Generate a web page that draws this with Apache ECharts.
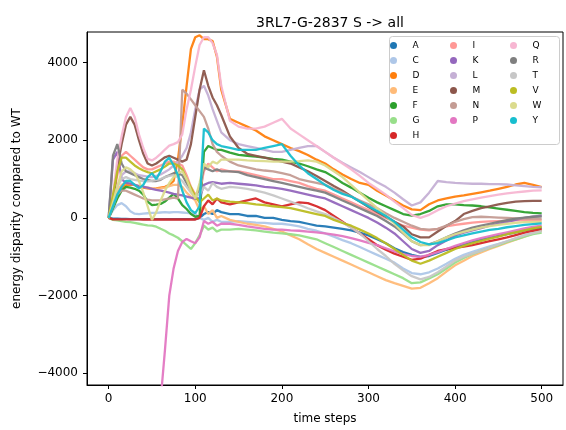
<!DOCTYPE html>
<html><head><meta charset="utf-8">
<script src="https://cdn.jsdelivr.net/npm/echarts@6/dist/echarts.min.js"></script>
<style>html,body{margin:0;padding:0;background:#fff}#c{width:566px;height:430px}</style>
</head><body><div id="c"></div>
<script>
const steps = [0,5,10,15,20,25,30,35,40,45,50,55,60,65,70,75,80,85,90,95,100,105,110,115,120,125,130,
  140,150,160,170,180,190,200,210,220,230,240,250,260,270,280,290,300,310,320,330,340,350,360,370,380,390,400,410,420,430,440,450,460,470,480,490,500];

const A = [0,-20,-20,-25,-25, -30,-30,-30,-30,-30, -30,-30,-30,-30,-30, -30,-30,-30,-30,-30, -30,0,100,150,100, 200,150,
  100,100,50,50,0, 0,-50,-80,-100,-150, -200,-220,-250,-280,-320, -380,-450,-550,-650,-780, -880,-950,-1000,-980,-900, -820,-750,-680,-620,-560, -510,-460,-420,-370,-320, -280,-250];
const C = [0,200,330,380,300, 170,110,100,110,120, 130,130,140,150,140, 150,150,140,130,120, 100,0,-50,0,-100, -50,-100,
  -100,-80,-100,-120,-130, -150,-150,-180,-220,-280, -330,-400,-480,-570,-650, -750,-850,-950,-1050,-1150, -1300,-1420,-1450,-1400,-1300, -1180,-1050,-950,-870,-800, -730,-670,-600,-530,-450, -380,-320];
const D = [0,300,550,750,850, 850,850,800,780,760, 750,760,780,800,850, 950,1500,2400,3400,4350, 4650,4700,4600,4600,4550, 4150,3300,
  2550,2450,2350,2250,2100, 2000,1900,1800,1720,1620, 1500,1400,1250,1120,1000, 900,850,700,580,450, 320,220,200,350,450, 500,550,580,620,660, 700,750,800,860,900, 850,790];
const E = [0,400,700,850,900, 880,850,820,800,780, 760,750,760,780,820, 850,850,800,650,550, 450,200,300,100,200, 0,50,
  -50,-100,-150,-180,-220, -280,-350,-450,-550,-680, -800,-900,-1000,-1100,-1200, -1300,-1400,-1500,-1600,-1680, -1750,-1820,-1800,-1680,-1550, -1380,-1220,-1100,-980,-890, -800,-720,-640,-560,-480, -400,-330];
const F = [0,250,500,700,800, 780,750,700,600,420, 330,340,360,420,520, 620,500,330,230,100, 30,50,1700,1850,1800, 1750,1750,
  1680,1620,1600,1580,1550, 1520,1500,1450,1400,1330, 1250,1180,1050,900,780, 650,520,400,300,200, 100,60,100,180,300, 350,350,330,320,300, 270,240,210,180,150, 130,115];
const G = [0,-50,-60,-80,-100, -110,-130,-150,-170,-190, -200,-225,-280,-330,-400, -450,-510,-600,-700,-800, -650,-450,-200,-300,-250, -350,-300,
  -300,-280,-300,-320,-350, -380,-400,-420,-450,-500, -550,-650,-750,-850,-950, -1050,-1150,-1250,-1350,-1450, -1550,-1680,-1660,-1560,-1450, -1300,-1150,-1030,-930,-850, -770,-700,-620,-550,-480, -420,-380];
const H = [0,-35,-35,-35,-35, -35,-35,-35,-40,-40, -40,-40,-40,-40,-40, -40,-40,-40,-40,-40, -40,0,300,450,350, 500,400,
  350,400,450,500,400, 350,300,350,400,380, 300,200,50,-100,-250, -400,-550,-700,-820,-920, -1000,-1080,-1050,-950,-850, -800,-770,-740,-700,-650, -600,-550,-500,-440,-380, -330,-290];
const I = [0,500,1100,1600,1700, 1600,1500,1400,1300,1250, 1250,1300,1350,1400,1450, 1450,1400,1350,1100,800, 600,700,1200,1400,1300, 1200,1250,
  1200,1200,1150,1100,1050, 1000,1000,950,900,820, 750,700,600,500,400, 300,200,100,0,-100, -200,-250,-300,-320,-280, -220,-180,-150,-120,-100, -90,-80,-70,-60,-60, -60,-60];
const K = [0,1500,1700,1000,900, 880,850,820,800,780, 750,720,700,680,650, 620,600,580,550,520, 500,500,850,900,920, 900,880,
  900,880,860,840,800, 780,750,700,650,600, 550,500,400,300,200, 100,0,-120,-250,-400, -600,-800,-900,-850,-700, -580,-450,-380,-320,-260, -200,-150,-100,-50,0, 30,60];
const L = [0,400,800,1100,1200, 1200,1150,1100,1080,1060, 1050,1080,1120,1180,1250, 1350,1450,1600,1800,2200, 2800,3300,3400,3150,2800, 2500,2200,
  2000,1900,1850,1800,1750, 1700,1700,1750,1800,1850, 1850,1700,1550,1420,1300, 1180,1050,920,800,650, 480,320,400,650,950, 920,900,890,880,880, 870,870,860,840,820, 800,790];
const M = [0,400,1300,1900,2400, 2600,2400,2000,1650,1400, 1350,1400,1480,1560,1600, 1550,1500,1450,1500,1900, 2600,3300,3800,3400,3100, 2900,2650,
  2100,1800,1650,1600,1550, 1500,1450,1400,1300,1200, 1080,950,820,700,560, 420,280,150,30,-100, -220,-420,-500,-500,-350, -200,-80,100,180,250, 300,350,390,420,430, 440,440];
const N = [0,300,600,700,700, 650,600,550,500,470, 450,450,460,480,500, 520,500,3300,3200,3050, 2900,2750,2600,2300,1900, 1700,1600,
  1450,1350,1300,1250,1220, 1200,1150,1100,1000,950, 900,850,750,650,550, 450,350,250,120,0, -100,-200,-280,-300,-280, -200,-100,-30,20,30, 20,10,0,-10,-20, -20,-20];
const P = [0,null,null,null,null, null,null,null,null,null, null,null,-4700,-3400,-2000, -1300,-850,-620,-540,-600, -650,-500,-80,-150,-100, -200,-150,
  -150,-180,-220,-250,-280, -300,-300,-320,-330,-350, -370,-400,-430,-470,-520, -580,-640,-700,-780,-860, -930,-980,-1000,-950,-880, -800,-720,-650,-580,-520, -470,-420,-370,-320,-270, -230,-200];
const Q = [0,600,1500,2100,2600, 2830,2600,2150,1800,1520, 1480,1550,1650,1760,1860, 1900,1950,2150,2800,3300, 3900,4450,4650,4650,4500, 4200,3400,
  2500,2350,2300,2300,2350, 2450,2550,2300,2150,2000, 1850,1700,1550,1400,1250, 1080,900,750,600,420, 250,80,0,80,200, 300,370,430,480,520, 560,600,630,660,680, 700,710];
const R = [0,1600,1900,1400,1200, 1150,1100,1050,1000,980, 950,950,980,1050,1100, 1150,1150,1100,900,700, 500,800,1300,1250,1200, 1250,1200,
  1200,1180,1100,1050,1000, 950,900,850,800,750, 700,650,550,450,350, 250,150,50,-80,-220, -400,-600,-700,-680,-600, -500,-400,-320,-250,-200, -150,-100,-60,-20,10, 30,40];
const T = [0,400,800,1000,1050, 1000,980,960,950,940, 950,980,1000,1050,1080, 1100,1050,950,800,650, 550,600,800,700,900, 800,750,
  800,780,750,700,650, 580,500,420,340,250, 170,100,0,-120,-250, -400,-600,-800,-980,-1180, -1350,-1500,-1580,-1520,-1400, -1250,-1100,-1000,-920,-850, -760,-680,-600,-520,-450, -390,-340];
const V = [0,600,1200,1550,1550, 1450,1350,1280,1220,1180, 1150,1200,1250,1320,1400, 1400,1350,1250,1000,780, 550,400,500,600,450, 500,450,
  420,400,380,350,330, 300,280,250,200,150, 100,50,-50,-130,-200, -300,-400,-520,-650,-800, -950,-1100,-1180,-1100,-1000, -900,-800,-720,-650,-590, -530,-480,-420,-370,-320, -270,-230];
const W = [0,400,800,1200,1300, 1250,1150,950,650,300, -50,150,450,700,900, 1050,1150,1200,1000,700, 500,900,1400,1300,1450, 1400,1500,
  1500,1500,1480,1470,1460, 1450,1450,1450,1460,1480, 1450,1350,1200,1050,850, 650,450,250,50,-150, -380,-600,-700,-700,-600, -500,-420,-360,-300,-250, -210,-180,-150,-130,-110, -100,-100];
const Y = [0,300,600,800,950, 950,850,760,850,1050, 1150,1000,1200,1450,1550, 1350,1100,700,400,200, 120,300,2300,2200,2000, 1900,1850,
  1800,1750,1750,1750,1800, 1850,1900,1600,1350,1150, 1000,850,720,620,550, 420,300,180,50,-100, -300,-500,-620,-680,-650, -580,-500,-450,-400,-350, -310,-280,-240,-210,-180, -160,-140];

const names = ['A','C','D','E','F','G','H','I','K','L','M','N','P','Q','R','T','V','W','Y'];
const values = {A,C,D,E,F,G,H,I,K,L,M,N,P,Q,R,T,V,W,Y};
const colors = ['#1f77b4','#aec7e8','#ff7f0e','#ffbb78','#2ca02c','#98df8a','#d62728','#ff9896','#9467bd','#c5b0d5',
  '#8c564b','#c49c94','#e377c2','#f7b6d2','#7f7f7f','#c7c7c7','#bcbd22','#dbdb8d','#17becf'];
const xTicks = [0,100,200,300,400,500];
const yTicks = [-4000,-2000,0,2000,4000];
const legendCols = [['A','C','D','E','F','G','H'],['I','K','L','M','N','P'],['Q','R','T','V','W','Y']];

const FONT = 'DejaVu Sans';
const chart = echarts.init(document.getElementById('c'), null, {renderer:'canvas'});
const series = names.map((n,i)=>({
  name:n, type:'line', showSymbol:false, clip:true, connectNulls:false,
  data: steps.map((s,j)=>[s, values[n][j]===null ? '-' : values[n][j]]),
  lineStyle:{width:2.3, color:colors[i], opacity:0.95},
  itemStyle:{color:colors[i]},
  emphasis:{disabled:true}
}));
const minus = v => String(v).replace('-', '\u2212');
chart.setOption({
  animation:false,
  textStyle:{fontFamily:FONT},
  title:{text:'3RL7-G-2837 S -> all', left:325, textAlign:'center', top:11,
    textStyle:{fontSize:14, fontWeight:'normal', color:'#000', fontFamily:FONT}},
  grid:{left:87, right:3, top:32, bottom:42, show:true, borderColor:'#000', borderWidth:1, backgroundColor:'transparent'},
  xAxis:{type:'value', min:-25, max:524.6,
    axisLine:{show:true, onZero:false, lineStyle:{color:'#000', width:1}},
    axisTick:{show:true, length:4, lineStyle:{color:'#000'}, customValues:xTicks},
    axisLabel:{customValues:xTicks, margin:8, fontSize:12, color:'#000', fontFamily:FONT},
    splitLine:{show:false},
    name:'time steps', nameLocation:'middle', nameGap:28,
    nameTextStyle:{fontSize:12, color:'#000', fontFamily:FONT}},
  yAxis:{type:'value', min:-4300, max:4785,
    axisLine:{show:true, onZero:false, lineStyle:{color:'#000', width:1}},
    axisTick:{show:true, length:4, lineStyle:{color:'#000'}, customValues:yTicks},
    axisLabel:{customValues:yTicks, margin:9, fontSize:12, color:'#000', fontFamily:FONT, formatter:minus},
    splitLine:{show:false},
    name:'energy disparity compared to WT', nameLocation:'middle', nameGap:64,
    nameTextStyle:{fontSize:12, color:'#000', fontFamily:FONT}},
  legend: legendCols.map((col,k)=>({
    data:col, orient:'vertical', left:390+60*k, top:38, padding:0, itemGap:0,
    icon:'circle', itemWidth:28, itemHeight:7, selectedMode:false, z:5,
    textStyle:{fontSize:9, lineHeight:15, color:'#000', fontFamily:FONT}
  })),
  graphic:{elements:[{type:'rect', left:389, top:36, z:4,
    shape:{width:170, height:108, r:3},
    style:{fill:'rgba(255,255,255,0.8)', stroke:'#cccccc', lineWidth:1}}]},
  series
});
</script></body></html>
